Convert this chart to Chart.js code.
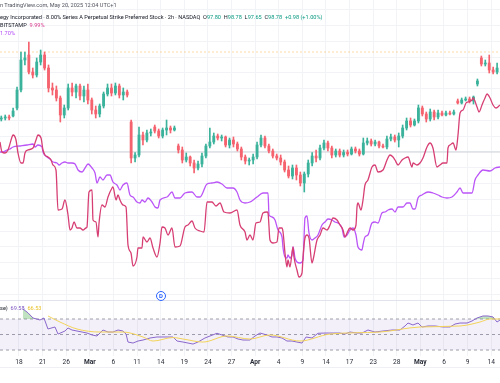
<!DOCTYPE html>
<html><head><meta charset="utf-8">
<script src="https://cdn.jsdelivr.net/npm/chart.js@4.4.1/dist/chart.umd.min.js"></script>
<style>
body{margin:0;background:#fff;}
#wrap{position:relative;width:500px;height:383px;overflow:hidden;background:#fff;font-family:Roboto,"Liberation Sans",sans-serif;}
canvas{position:absolute;left:0;}
.t{position:absolute;left:0;white-space:nowrap;line-height:1;}
.hl{position:absolute;left:0;width:500px;height:1px;background:#e0e3eb;}
</style></head><body>
<div id="wrap">
<canvas id="main" width="500" height="300" style="top:0"></canvas>
<canvas id="osc" width="500" height="82" style="top:301px"></canvas>
<div class="hl" style="top:300px"></div>
<div class="hl" style="top:367px;background:#eef0f4"></div>
<div class="t" style="top:3px;font-size:5.6px;color:#50535e">n TradingView.com, May 20, 2025 12:04 UTC+1</div>
<div class="t" style="top:15px;font-size:5.6px;color:#131722">egy Incorporated · 8.00% Series A Perpetual Strike Preferred Stock · 2h · NASDAQ&nbsp; O<span style="color:#089981">97.80</span>&nbsp; H<span style="color:#089981">98.78</span>&nbsp; L<span style="color:#089981">97.65</span>&nbsp; C<span style="color:#089981">98.78</span>&nbsp; <span style="color:#089981">+0.98 (+1.00%)</span></div>
<div class="t" style="top:23px;font-size:5.6px;color:#131722">BITSTAMP&nbsp; <span style="color:#d93b8f">9.99%</span></div>
<div class="t" style="top:31px;font-size:5.6px;color:#b24cf5">1.70%</div>
<div class="t" style="top:306px;font-size:5.6px;color:#131722">se)&nbsp; <span style="color:#7e57c2">69.58</span>&nbsp; <span style="color:#e8c02a">66.53</span></div>
<div style="position:absolute;left:156px;top:291px;width:8px;height:8px;border:1px solid #2962ff;border-radius:50%;background:#fff;color:#2962ff;font-size:6px;font-weight:bold;line-height:8px;text-align:center;font-family:Roboto,sans-serif">D</div>
</div>
<script>
// ---- axis / ticks ----
const X_MIN = -2.414, X_MAX = 61.118;           // trading-day index (0 = Feb 18)
const X_TICKS = [0,3,6,9,12,15,18,21,24,27,30,33,36,39,42,45,48,51,54,57,60];
const X_LABELS = ['18','21','26','Mar','6','11','14','19','24','27','Apr','4','9','14','17','23','28','May','6','9','14'];
const MONTHS = ['Mar','Apr','May'];
const Y_MIN = -29.6, Y_MAX = 30.4;              // percent
const GRID_STEP = 3.16;
const HIGH_LINE = 20;
const RSI_MIN = 22.3, RSI_MAX = 93.2;
const RSI_LEVELS = [70, 50, 30];

// ---- candles (2h bars sampled every half trading day), percent ----
const CANDLE_START = -2.25, CANDLE_STEP = 0.5;
const CANDLE_OPEN = [6.6,6.8,7.0,7.2,8.8,12.4,18.4,19.4,16.0,15.4,18.0,19.4,16.8,12.8,12.4,10.8,7.4,8.8,12.8,12.0,13.2,11.2,12.4,10.4,8.4,7.6,9.2,11.6,12.8,11.8,13.2,11.4,12.0,
 6.0,-1.2,-0.6,3.4,2.4,3.8,5.0,4.2,3.2,4.4,4.8,4.4,
 1.2,0.4,-1.6,-1.0,-2.2,-3.2,-2.4,-0.8,1.2,2.0,3.2,2.8,3.0,1.4,2.4,1.6,0.6,-1.0,-1.8,-1.6,-1.0,1.4,2.8,1.2,0.2,-0.8,-1.2,-2.0,-3.6,-4.8,-3.2,-4.6,-6.2,-4.4,-2.2,-0.8,-1.2,0.8,1.8,0.8,-0.6,0.2,-0.6,0,-0.4,0.6,0.2,-0.4,1.8,2.2,1.6,2.0,1.2,1.0,2.6,3.0,2.4,3.2,4.8,6.2,5.4,6.2,8.8,7.6,6.6,8.0,7.0,7.8,7.4,7.8,7.6,
 10.2,9.8,10.4,10.6,10.2,13.6,18.8,17.6,17.8,16.4,16.0];
const CANDLE_CLOSE = [6.8,7.0,6.8,8.2,12.4,18.4,18.8,16.0,15.4,18.0,19.4,16.8,12.8,12.4,10.8,7.4,8.8,12.8,12.0,13.2,11.2,12.4,10.4,8.4,7.6,9.2,11.6,12.8,11.8,13.2,11.4,12.0,11.4,
 -1.2,-0.6,3.4,2.4,3.8,4.0,4.2,3.2,4.4,4.8,4.4,4.8,
 0.4,-1.6,-1.0,-2.2,-3.2,-2.4,-0.8,1.2,2.0,3.2,2.8,3.0,1.4,2.4,1.6,0.6,-1.0,-1.8,-1.6,-1.0,1.4,2.8,1.2,0.2,-0.8,-1.2,-2.0,-3.6,-4.8,-3.2,-4.6,-6.2,-4.4,-2.2,-0.8,-1.2,0.8,1.8,0.8,-0.6,0.2,-0.6,0,-0.4,0.6,0.2,-0.4,1.8,2.2,1.6,2.0,1.2,1.0,2.6,3.0,2.4,3.2,4.8,6.2,5.4,6.2,8.8,7.6,6.6,8.0,7.0,7.8,7.4,7.8,7.6,8.0,
 9.8,10.4,10.6,10.2,11.0,14.2,17.6,17.8,16.4,16.0,16.8];
const CANDLE_HIGH = [7.2,7.4,7.4,8.8,13.0,20.0,20.0,22.0,16.8,18.8,20.4,20.0,17.4,13.8,13.2,11.2,9.4,13.6,13.8,13.6,13.6,13.2,13.6,10.8,9.2,9.6,12.0,13.6,13.6,13.8,13.6,12.8,12.4,
 6.4,0,5.0,4.0,4.4,4.6,5.4,4.6,4.8,6.4,5.2,5.2,
 1.6,1.0,-0.2,-0.8,-1.6,-1.8,-0.2,1.6,4.8,3.8,3.6,3.4,3.2,2.8,3.0,2.0,1.0,-0.6,-1.2,-0.4,2.0,3.4,3.2,1.6,0.6,-0.4,-0.6,-1.6,-2.8,-2.6,-2.6,-4.0,-4.0,-1.6,0,0.4,1.4,2.4,2.2,1.2,0.6,0.6,0.4,0.4,1.0,1.0,0.6,2.8,2.8,2.6,2.4,2.2,1.6,3.2,3.6,3.4,3.8,5.4,6.8,6.8,6.6,9.4,9.2,8.0,8.6,8.4,8.4,8.2,8.2,8.2,8.4,
 10.6,10.8,11.0,11.0,11.2,14.6,19.2,18.4,19.4,17.0,17.8];
const CANDLE_LOW = [6.2,6.4,6.4,7.0,8.4,12.0,17.4,15.6,14.8,15.0,17.4,16.4,12.0,11.4,10.2,6.0,6.8,8.4,11.2,10.8,10.4,10.0,9.6,7.6,6.8,7.0,8.8,11.2,11.2,11.4,10.8,10.4,11.0,
 -2.2,-2.0,-1.0,1.4,2.0,3.2,3.8,2.8,2.8,3.4,3.8,4.2,
 -0.2,-2.2,-2.0,-2.8,-4.2,-3.6,-3.0,-1.2,0.8,1.6,2.4,2.2,1.0,0.8,1.0,0.2,-1.6,-2.4,-2.6,-2.4,-1.4,1.0,0.8,-0.2,-1.2,-1.6,-2.6,-4.0,-5.2,-5.4,-5.6,-6.8,-8.0,-5.0,-2.8,-2.0,-1.6,0.4,0.2,-1.2,-1.0,-1.0,-1.0,-0.8,-0.6,-0.2,-0.8,-0.6,1.4,1.2,1.2,0.8,0.8,0.6,2.2,2.0,1.0,2.8,4.4,5.0,5.2,5.8,7.2,6.0,6.2,6.4,6.6,7.2,7.2,7.4,7.4,
 9.6,9.6,10.2,9.8,9.6,13.2,17.2,17.2,15.8,15.6,15.6];

// ---- compare series [trading-day index, percent] ----
const BTC_POINTS = [[-2.42,2.0],[-2.16,0],[-1.78,-0.2],[-1.40,0.4],[-0.89,3.0],[-0.76,3.4],[-0.38,2.4],[-0.13,-0.2],[0.25,-2.2],[0.51,-2.2],[0.76,-0.2],[1.14,0.4],[1.78,0.8],[2.16,2.4],[2.41,3.4],[2.80,2.8],[3.05,0.4],[3.30,-0.6],[3.68,-1.0],[4.07,-1.6],[4.32,-2.6],[4.70,-3.6],[4.96,-11.6],[5.46,-11.4],[5.84,-9.6],[6.23,-12.6],[6.48,-15.6],[6.73,-15.2],[6.99,-14.0],[7.37,-15.2],[7.75,-15.2],[8.13,-15.6],[8.51,-15.2],[8.64,-15.0],[8.89,-8.0],[9.28,-7.6],[9.40,-13.6],[9.78,-14.0],[10.04,-17.0],[10.17,-14.2],[10.55,-10.6],[10.93,-11.0],[11.31,-9.0],[11.82,-7.2],[11.94,-7.0],[12.33,-9.6],[12.58,-8.6],[12.83,-9.6],[13.21,-10.6],[13.60,-11.0],[13.85,-18.6],[14.23,-20.2],[14.49,-22.8],[14.99,-21.0],[15.12,-19.2],[15.63,-19.2],[15.76,-17.0],[16.26,-18.0],[16.65,-17.2],[17.03,-19.2],[17.53,-21.0],[17.92,-18.2],[18.17,-15.0],[18.55,-15.2],[18.93,-16.6],[19.44,-15.2],[19.82,-19.0],[20.46,-18.8],[21.09,-15.0],[21.47,-14.6],[21.98,-13.8],[22.36,-15.2],[23.00,-15.8],[23.51,-16.0],[23.89,-10.0],[24.52,-10.0],[25.03,-10.8],[25.54,-10.2],[26.05,-12.0],[26.81,-12.2],[27.70,-11.6],[28.08,-14.6],[28.72,-16.0],[28.97,-17.6],[29.35,-16.6],[29.73,-17.6],[30.11,-14.2],[30.62,-14.0],[31.00,-12.2],[31.51,-12.0],[31.64,-12.2],[31.89,-17.6],[32.27,-18.2],[32.78,-18.0],[33.04,-15.2],[33.42,-15.2],[33.55,-16.0],[33.80,-20.2],[34.05,-23.0],[34.18,-21.6],[34.43,-23.0],[34.82,-19.0],[34.94,-21.0],[35.32,-23.6],[35.58,-25.0],[35.96,-24.2],[36.09,-21.0],[36.34,-17.2],[36.59,-16.6],[36.85,-17.2],[37.23,-22.2],[37.36,-21.6],[37.87,-17.6],[38.25,-16.6],[38.63,-15.2],[39.14,-15.6],[39.52,-14.6],[39.90,-13.2],[40.41,-13.6],[40.79,-14.6],[41.17,-15.6],[41.42,-17.0],[41.68,-16.2],[42.06,-15.2],[42.44,-15.6],[42.82,-14.6],[42.95,-11.0],[43.07,-10.2],[43.46,-11.6],[43.71,-9.6],[43.96,-6.6],[44.34,-5.6],[44.85,-3.0],[45.23,-2.6],[45.62,-4.0],[46.25,-3.6],[46.76,-1.6],[47.14,-0.6],[47.52,-1.0],[47.78,-1.6],[48.16,-2.6],[48.67,-1.6],[49.05,-1.2],[49.43,-1.0],[49.94,-3.0],[50.06,-2.2],[50.57,-2.6],[50.95,-2.2],[51.33,-1.2],[51.84,1.0],[52.22,1.8],[52.60,0.8],[53.11,-3.0],[53.49,-2.6],[53.87,-2.2],[54.38,-2.2],[54.51,0.8],[54.77,1.4],[55.15,1.8],[55.53,0.4],[55.78,3.4],[56.04,7.8],[56.42,8.4],[56.80,9.8],[57.05,10.0],[57.56,10.4],[57.69,10.8],[58.20,9.0],[58.45,8.0],[58.83,9.4],[59.21,10.8],[59.47,11.6],[59.85,10.8],[60.23,9.4],[60.61,8.8],[61.12,9.4]];
const CMP_POINTS = [[-2.41,0],[-2.03,0],[-1.52,0.4],[-1.14,0.6],[-0.76,1.0],[0.13,1.2],[1.02,1.4],[1.78,1.6],[2.03,1.0],[2.41,1.4],[2.92,1.0],[3.05,0],[3.56,-1.0],[3.94,-1.4],[4.32,-2.0],[4.83,-2.2],[5.08,-2.6],[5.46,-2.2],[5.84,-2.0],[6.23,-2.2],[6.73,-2.2],[7.12,-2.4],[7.50,-3.6],[8.01,-4.0],[8.39,-3.2],[8.77,-2.4],[9.28,-3.2],[9.66,-4.2],[9.91,-6.2],[10.29,-5.0],[10.67,-5.6],[11.18,-4.6],[11.56,-4.6],[11.94,-6.0],[12.45,-6.6],[12.83,-7.6],[13.21,-6.6],[13.72,-6.2],[14.10,-8.6],[14.49,-9.0],[14.99,-10.0],[15.37,-10.2],[15.63,-9.6],[16.01,-10.0],[16.39,-9.2],[16.90,-10.0],[17.28,-11.0],[17.66,-11.2],[17.92,-9.6],[18.81,-9.0],[19.44,-8.0],[19.82,-9.2],[20.46,-9.2],[21.09,-8.2],[21.98,-8.0],[22.62,-9.0],[23.00,-9.0],[23.89,-6.4],[24.52,-6.2],[25.16,-6.0],[25.79,-6.4],[26.43,-7.2],[27.19,-7.2],[27.70,-8.0],[28.08,-9.6],[28.72,-10.2],[29.35,-10.0],[30.24,-9.0],[31.00,-8.2],[31.64,-8.2],[31.77,-12.6],[32.15,-13.0],[32.53,-13.6],[32.91,-15.6],[33.42,-17.0],[33.55,-19.2],[33.80,-21.0],[34.05,-21.2],[34.18,-20.6],[34.43,-21.2],[34.69,-20.6],[34.82,-19.0],[35.07,-21.2],[35.32,-22.0],[35.71,-22.2],[36.09,-21.6],[36.34,-13.2],[36.59,-12.8],[36.85,-16.2],[37.23,-17.6],[37.61,-17.2],[37.99,-16.6],[38.50,-14.6],[38.88,-14.0],[39.26,-13.4],[39.77,-13.6],[40.15,-14.0],[40.53,-14.2],[41.04,-15.2],[41.30,-17.0],[41.68,-16.6],[42.06,-15.6],[42.44,-15.2],[42.82,-16.6],[43.07,-19.0],[43.58,-19.6],[43.71,-18.6],[43.96,-17.0],[44.34,-16.6],[44.85,-14.2],[45.23,-14.0],[45.62,-14.2],[46.12,-12.2],[46.51,-12.0],[46.89,-11.6],[47.40,-11.4],[47.78,-12.0],[48.16,-11.0],[48.79,-11.0],[49.30,-10.2],[49.68,-10.2],[50.06,-11.4],[50.32,-11.4],[50.70,-9.2],[51.21,-8.6],[51.97,-8.0],[52.60,-8.2],[53.24,-8.6],[53.75,-9.0],[54.38,-9.2],[55.02,-9.0],[55.65,-8.0],[56.04,-7.2],[56.42,-8.2],[57.56,-8.2],[57.94,-5.6],[58.32,-4.6],[58.96,-3.6],[59.85,-3.8],[60.48,-3.2],[61.12,-3.0]];

// ---- RSI pane [trading-day index, value] ----
const RSI_POINTS = [[0.51,82.9],[1.14,78.0],[1.78,71.3],[2.67,68.7],[3.17,71.3],[3.68,57.1],[4.57,59.7],[4.96,50.6],[5.84,54.5],[6.23,58.4],[6.73,55.8],[7.37,54.5],[8.01,53.2],[8.64,51.9],[9.28,49.4],[9.91,48.1],[10.67,55.8],[11.31,53.2],[11.94,53.2],[12.58,55.8],[13.21,54.5],[13.60,50.6],[13.85,40.3],[14.49,39.0],[15.12,41.6],[15.76,42.9],[16.65,45.5],[17.53,46.8],[18.55,46.8],[19.57,46.8],[20.08,41.6],[20.84,40.3],[21.47,39.0],[22.11,37.7],[22.74,40.3],[23.63,45.5],[24.27,48.1],[25.16,51.6],[25.79,49.4],[26.56,46.8],[27.19,46.8],[27.83,44.2],[28.46,42.9],[29.35,42.9],[29.99,48.1],[30.62,51.9],[31.51,49.4],[32.15,46.8],[32.78,46.8],[33.42,45.5],[34.05,41.6],[34.69,41.6],[35.32,40.3],[35.96,39.0],[36.47,46.8],[37.23,45.5],[37.99,51.6],[38.88,51.9],[39.90,51.9],[40.79,51.9],[41.42,50.6],[42.06,53.2],[42.95,51.9],[43.58,51.9],[44.34,55.8],[45.23,53.2],[46.25,54.5],[47.40,55.8],[48.41,55.8],[49.05,61.0],[49.43,64.8],[50.06,62.3],[50.70,64.8],[51.21,59.7],[51.97,61.0],[52.86,61.0],[53.87,59.7],[54.77,59.7],[55.40,63.5],[56.04,64.8],[56.93,64.8],[57.56,67.4],[58.20,71.3],[58.96,73.9],[59.59,73.9],[60.23,72.6],[60.74,66.1],[61.12,68.7]];
const RSI_MA_POINTS = [[3.68,73.9],[5.21,66.1],[7.37,57.1],[10.29,53.2],[13.21,53.2],[15.76,46.8],[17.03,41.6],[19.57,46.1],[20.84,44.2],[23.38,40.3],[26.43,48.1],[29.35,44.2],[31.89,49.4],[35.71,41.6],[39.52,50.6],[45.87,53.2],[50.95,59.7],[56.04,61.0],[58.58,66.1],[59.85,70.0],[61.12,70.0]];

// ---- styles ----
const FONT = 'Roboto, "Liberation Sans", sans-serif';
const UP = '#3bb29b', DOWN = '#f5636f';
const GRID = '#f2f3f6';
const pts = a => a.map(([x, y]) => ({x, y}));
const hline = v => [{x: X_MIN, y: v}, {x: X_MAX, y: v}];

const candleTimes = CANDLE_OPEN.map((_, i) => CANDLE_START + i * CANDLE_STEP);
const candleColors = CANDLE_OPEN.map((o, i) => CANDLE_CLOSE[i] >= o ? UP : DOWN);

const xScale = (showTicks) => ({
  type: 'linear', min: X_MIN, max: X_MAX, offset: false,
  grid: {color: GRID, drawTicks: false, offset: false},
  border: {display: false},
  afterBuildTicks: s => { s.ticks = X_TICKS.map(v => ({value: v})); },
  afterFit: s => { s.height = showTicks ? 27 : 0; },
  ticks: showTicks ? {
    autoSkip: false, maxRotation: 0, minRotation: 0, padding: 2, color: '#2a2e39',
    font: ctx => ({family: FONT, size: 6.6, weight: MONTHS.includes(X_LABELS[ctx.index]) ? 'bold' : 'normal'}),
    callback: (v, i) => X_LABELS[i]
  } : {display: false}
});

const common = {
  responsive: false, animation: false, devicePixelRatio: 1,
  layout: {padding: 0},
  plugins: {legend: {display: false}, tooltip: {enabled: false}},
  elements: {point: {radius: 0}}
};

new Chart(document.getElementById('main'), {
  type: 'bar',
  data: {datasets: [
    {type: 'line', data: pts(BTC_POINTS), borderColor: '#d73f74', borderWidth: 1.3, pointRadius: 0, cubicInterpolationMode: 'monotone', order: 1},
    {type: 'line', data: pts(CMP_POINTS), borderColor: '#bb55f7', borderWidth: 1.3, pointRadius: 0, cubicInterpolationMode: 'monotone', order: 1},
    {type: 'bar', data: candleTimes.map((t, i) => ({x: t, y: [CANDLE_LOW[i], CANDLE_HIGH[i]]})), backgroundColor: candleColors, barThickness: 1, grouped: false, order: 3},
    {type: 'bar', data: candleTimes.map((t, i) => ({x: t, y: [CANDLE_OPEN[i], CANDLE_CLOSE[i]]})), backgroundColor: candleColors, barThickness: 2.2, minBarLength: 1, grouped: false, order: 2},
    {type: 'line', data: hline(HIGH_LINE), borderColor: 'rgba(255,152,0,0.35)', borderWidth: 1, borderDash: [2, 2], pointRadius: 0, order: 5},
    {type: 'line', data: hline(0), borderColor: '#cfd2d9', borderWidth: 1, pointRadius: 0, order: 6}
  ]},
  options: {...common, scales: {
    x: xScale(false),
    y: {type: 'linear', min: Y_MIN, max: Y_MAX,
        grid: {color: GRID, drawTicks: false}, border: {display: false}, ticks: {display: false},
        afterBuildTicks: s => { s.ticks = Array.from({length: 19}, (_, k) => ({value: (k - 9) * GRID_STEP})); },
        afterFit: s => { s.width = 0; }}
  }}
});

const BAND = 'rgba(126,87,194,0.09)';
const DASH = 'rgba(120,123,134,0.7)';
new Chart(document.getElementById('osc'), {
  type: 'line',
  data: {datasets: [
    {data: pts(RSI_POINTS), borderColor: '#8a67cc', borderWidth: 1, pointRadius: 0,
     fill: {target: {value: RSI_LEVELS[0]}, above: 'rgba(76,175,80,0.35)', below: 'rgba(0,0,0,0)'}, order: 1},
    {data: pts(RSI_MA_POINTS), borderColor: '#f3d35a', borderWidth: 1, pointRadius: 0, cubicInterpolationMode: 'monotone', order: 0},
    {data: hline(RSI_LEVELS[0]), borderColor: DASH, borderWidth: 1, borderDash: [3, 3], pointRadius: 0,
     fill: {target: {value: RSI_LEVELS[2]}, above: BAND, below: BAND}, backgroundColor: BAND, order: 3},
    {data: hline(RSI_LEVELS[1]), borderColor: DASH, borderWidth: 1, borderDash: [3, 3], pointRadius: 0, order: 3},
    {data: hline(RSI_LEVELS[2]), borderColor: DASH, borderWidth: 1, borderDash: [3, 3], pointRadius: 0, order: 3}
  ]},
  options: {...common, scales: {
    x: xScale(true),
    y: {type: 'linear', min: RSI_MIN, max: RSI_MAX, grid: {display: false}, border: {display: false},
        ticks: {display: false}, afterFit: s => { s.width = 0; }}
  }}
});
</script>
</body></html>
